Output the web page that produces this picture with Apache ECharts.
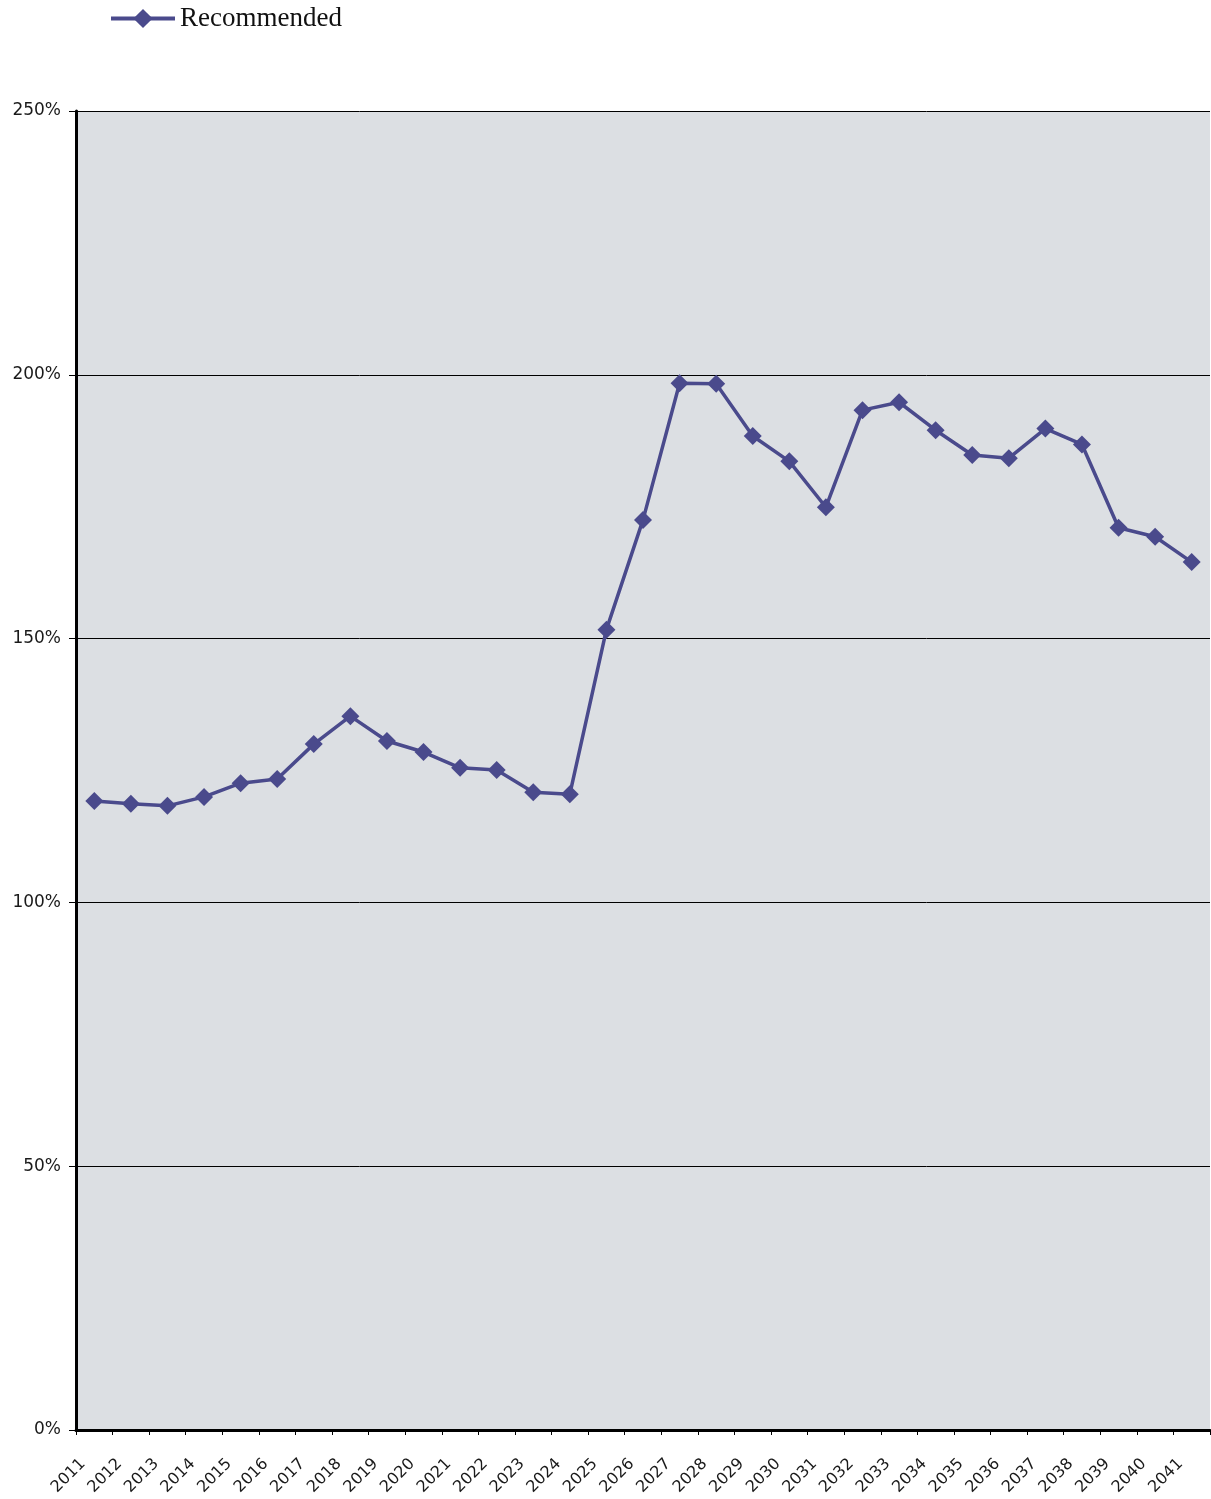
<!DOCTYPE html>
<html>
<head>
<meta charset="utf-8">
<script src="https://cdn.jsdelivr.net/npm/echarts@6/dist/echarts.min.js"></script>
<style>
  html, body { margin: 0; padding: 0; background: #ffffff; }
  #chart { width: 1211px; height: 1499px; }
</style>
</head>
<body>
<div id="chart"></div>
<script>
// Years on the horizontal axis
const years = ['2011','2012','2013','2014','2015','2016','2017','2018','2019','2020',
  '2021','2022','2023','2024','2025','2026','2027','2028','2029','2030',
  '2031','2032','2033','2034','2035','2036','2037','2038','2039','2040','2041'];

// "Recommended" series, in percent
const recommended = [119.2, 118.7, 118.3, 120.0, 122.6, 123.4, 130.0, 135.3, 130.6, 128.5,
  125.5, 125.1, 120.9, 120.5, 151.7, 172.5, 198.4, 198.3, 188.4, 183.6,
  174.9, 193.3, 194.8, 189.5, 184.8, 184.2, 189.8, 186.8, 171.0, 169.3, 164.5];

// Value axis range and step, in percent
const yMin = 0;
const yMax = 250;
const yStep = 50;

const lineColor = '#4a4a8c';

const chart = echarts.init(document.getElementById('chart'), null, { renderer: 'canvas' });

chart.setOption({
  animation: false,
  backgroundColor: '#ffffff',
  legend: {
    left: 104,
    top: 0,
    itemWidth: 64,
    itemHeight: 24,
    itemGap: 4,
    lineStyle: { width: 4 },
    textStyle: { fontFamily: 'Liberation Serif', fontSize: 27, color: '#111111' },
    data: ['Recommended']
  },
  grid: {
    left: 76,
    right: 1,
    top: 111,
    bottom: 69,
    show: true,
    backgroundColor: '#dcdfe3',
    borderWidth: 0
  },
  xAxis: {
    type: 'category',
    data: years,
    boundaryGap: true,
    axisLine: { show: true, lineStyle: { color: '#000000', width: 3 } },
    axisTick: { show: true, interval: 0, length: 5, lineStyle: { color: '#000000', width: 1 } },
    axisLabel: {
      interval: 0,
      rotate: 45,
      margin: 20,
      padding: [0, 16, 0, 0],
      fontFamily: 'DejaVu Sans',
      fontSize: 16,
      color: '#1a1a1a'
    },
    splitLine: { show: false }
  },
  yAxis: {
    type: 'value',
    min: yMin,
    max: yMax,
    interval: yStep,
    axisLine: { show: true, lineStyle: { color: '#000000', width: 3 } },
    axisTick: { show: true, length: 7, lineStyle: { color: '#000000', width: 1 } },
    axisLabel: {
      formatter: '{value}%',
      margin: 15,
      fontFamily: 'DejaVu Sans',
      fontSize: 17,
      color: '#1a1a1a'
    },
    splitLine: { show: true, lineStyle: { color: '#000000', width: 1 } }
  },
  series: [{
    name: 'Recommended',
    type: 'line',
    data: recommended,
    symbol: 'diamond',
    symbolSize: 18,
    lineStyle: { color: lineColor, width: 3.5 },
    itemStyle: { color: lineColor, borderColor: lineColor, borderWidth: 0 }
  }]
});
</script>
</body>
</html>
